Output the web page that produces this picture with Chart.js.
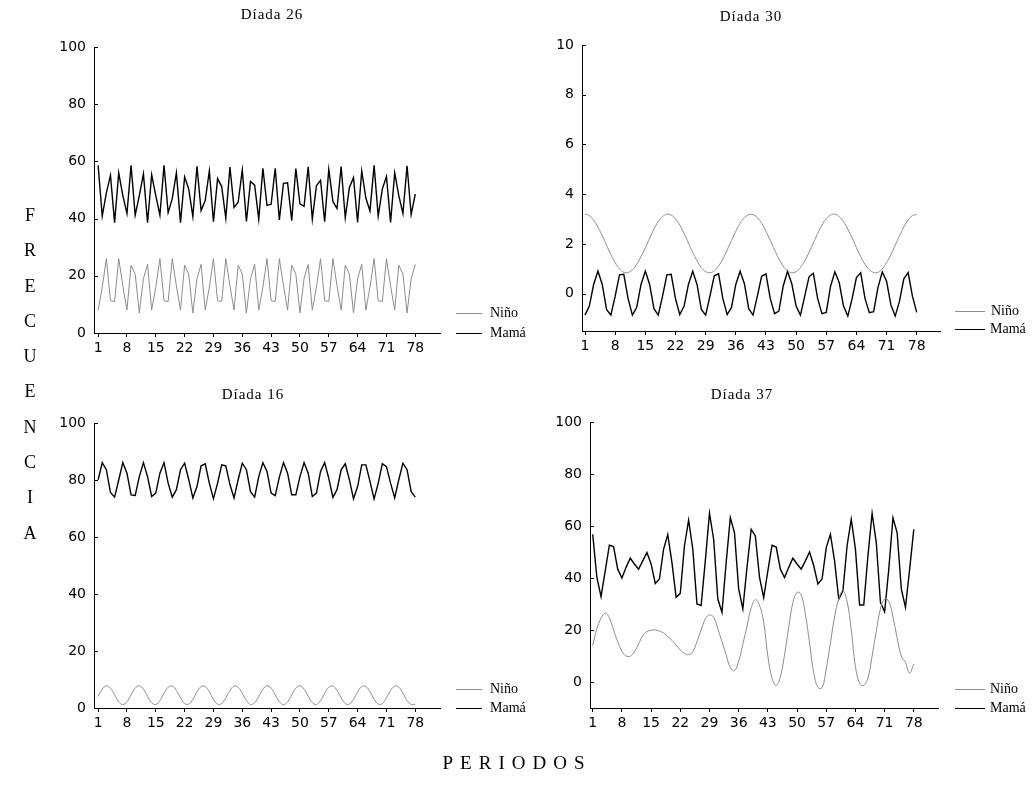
<!DOCTYPE html>
<html><head><meta charset="utf-8">
<script src="https://cdn.jsdelivr.net/npm/chart.js@4.4.0/dist/chart.umd.min.js"></script>
<style>
body{margin:0;background:#fff;width:1035px;height:799px;position:relative;overflow:hidden;}
canvas{position:absolute;}
.title{position:absolute;font-family:"Liberation Serif",serif;font-size:15px;letter-spacing:1px;color:#000;white-space:nowrap;transform:translate(-50%,-50%);}
.lgline{position:absolute;height:0;}
.lgtext{position:absolute;font-family:"Liberation Serif",serif;font-size:14px;color:#000;white-space:nowrap;transform:translateY(-50%);}
#ylab{position:absolute;left:18px;top:198px;width:24px;text-align:center;font-family:"Liberation Serif",serif;font-size:18px;line-height:35.3px;color:#000;}
#xlab{position:absolute;left:517px;top:763px;transform:translate(-50%,-50%);font-family:"Liberation Serif",serif;font-size:19px;letter-spacing:7px;color:#000;white-space:nowrap;}
</style></head><body>
<canvas id="c26" width="420" height="363" style="left:40px;top:0px"></canvas>
<canvas id="c30" width="432" height="361" style="left:528px;top:0px"></canvas>
<canvas id="c16" width="420" height="362" style="left:40px;top:376px"></canvas>
<canvas id="c37" width="422" height="362" style="left:536px;top:376px"></canvas>

<div class="title" style="left:272px;top:14px">Díada 26</div>
<div class="title" style="left:751px;top:16px">Díada 30</div>
<div class="title" style="left:253px;top:394px">Díada 16</div>
<div class="title" style="left:742px;top:394px">Díada 37</div>

<div class="lgline" style="left:456px;top:313px;width:26px;border-top:1px solid #8c8c8c"></div>
<div class="lgtext" style="left:490px;top:313px">Niño</div>
<div class="lgline" style="left:456px;top:333px;width:26px;border-top:1.4px solid #000"></div>
<div class="lgtext" style="left:490px;top:333px">Mamá</div>

<div class="lgline" style="left:955px;top:311px;width:30px;border-top:1px solid #8c8c8c"></div>
<div class="lgtext" style="left:991px;top:311px">Niño</div>
<div class="lgline" style="left:955px;top:329px;width:30px;border-top:1.4px solid #000"></div>
<div class="lgtext" style="left:990px;top:329px">Mamá</div>

<div class="lgline" style="left:456px;top:689px;width:26px;border-top:1px solid #8c8c8c"></div>
<div class="lgtext" style="left:490px;top:689px">Niño</div>
<div class="lgline" style="left:456px;top:708px;width:26px;border-top:1.4px solid #000"></div>
<div class="lgtext" style="left:490px;top:708px">Mamá</div>

<div class="lgline" style="left:955px;top:689px;width:30px;border-top:1px solid #8c8c8c"></div>
<div class="lgtext" style="left:990px;top:689px">Niño</div>
<div class="lgline" style="left:955px;top:708px;width:30px;border-top:1.4px solid #000"></div>
<div class="lgtext" style="left:990px;top:708px">Mamá</div>

<div id="ylab">F<br>R<br>E<br>C<br>U<br>E<br>N<br>C<br>I<br>A</div>
<div id="xlab">PERIODOS</div>

<script>
const periods = [1,2,3,4,5,6,7,8,9,10,11,12,13,14,15,16,17,18,19,20,21,22,23,24,25,26,27,28,29,30,31,32,33,34,35,36,37,38,39,40,41,42,43,44,45,46,47,48,49,50,51,52,53,54,55,56,57,58,59,60,61,62,63,64,65,66,67,68,69,70,71,72,73,74,75,76,77,78];
const xTickLabels = [1,8,15,22,29,36,43,50,57,64,71,78];
const yTicks100 = [0,20,40,60,80,100];
const yTicks10 = [0,2,4,6,8,10];

// Díada 26
const nino26 = [8,16,26,11.3,11,26,16.5,8,23.7,20.6,7,19,24,
  8,16,26,11.3,11,26,16.5,8,23.7,20.6,7,19,24,
  8,16,26,11.3,11,26,16.5,8,23.7,20.6,7,19,24,
  8,16,26,11.3,11,26,16.5,8,23.7,20.6,7,19,24,
  8,16,26,11.3,11,26,16.5,8,23.7,20.6,7,19,24,
  8,16,26,11.3,11,26,16.5,8,23.7,20.6,7,19,24];
const mama26 = [58.6,40.9,49,55.1,38.6,56,48,41.8,58.6,41.2,
  48,55.6,38.6,55.3,48,41.2,58.6,42.1,47,56,
  38.6,54.6,50.3,40.7,58.3,42.8,46.3,56.7,38.9,54,
  51.2,40.1,58,43.9,45.7,57,39,53,51.7,39.8,
  57.6,44.6,45,57.6,39.5,52.3,52.5,39.3,57.5,45.2,
  44.3,58.1,39.8,51.5,53.4,38.9,57.2,46,43.5,58.2,
  40.3,50.9,54.3,38.7,56.6,47.2,42.7,58.6,40.9,50.3,
  54.7,38.7,56,48,41.8,58.5,41.4,48.6];

// Díada 30
const nino30 = [3.20,3.14,2.96,2.68,2.33,1.95,1.57,1.25,1.00,0.86,
  0.85,0.96,1.18,1.49,1.85,2.23,2.60,2.90,3.10,3.20,
  3.16,3.01,2.76,2.42,2.04,1.66,1.32,1.05,0.89,0.84,
  0.92,1.11,1.40,1.76,2.14,2.51,2.83,3.06,3.18,3.18,
  3.06,2.83,2.51,2.14,1.76,1.40,1.11,0.92,0.84,0.89,
  1.05,1.32,1.66,2.04,2.42,2.76,3.01,3.16,3.20,3.10,
  2.90,2.60,2.24,1.85,1.49,1.18,0.96,0.85,0.86,1.00,
  1.25,1.57,1.95,2.33,2.68,2.96,3.14,3.18];
const mama30 = [-0.86,-0.5,0.37,0.91,0.37,-0.63,-0.86,-0.1,0.76,0.78,-0.2,
  -0.86,-0.55,0.37,0.91,0.37,-0.6,-0.86,-0.1,0.76,0.78,-0.2,
  -0.84,-0.5,0.37,0.9,0.37,-0.63,-0.86,-0.1,0.72,0.8,-0.2,
  -0.84,-0.55,0.37,0.9,0.4,-0.6,-0.86,-0.1,0.7,0.8,-0.2,
  -0.8,-0.7,0.3,0.9,0.4,-0.5,-0.86,-0.1,0.68,0.82,-0.2,
  -0.8,-0.75,0.3,0.88,0.45,-0.5,-0.9,-0.2,0.65,0.84,-0.2,
  -0.76,-0.72,0.25,0.87,0.5,-0.45,-0.9,-0.3,0.6,0.85,-0.1,
  -0.75];

// Díada 16
const nino16 = [4.10,6.59,7.79,6.97,4.63,2.22,1.20,2.21,4.63,6.97,
  7.79,6.59,4.10,1.86,1.24,2.62,5.16,7.29,7.70,6.15,
  3.59,1.58,1.37,3.08,5.66,7.53,7.54,5.68,3.09,1.37,
  1.57,3.57,6.14,7.70,7.29,5.17,2.64,1.24,1.85,4.09,
  6.58,7.79,6.98,4.65,2.22,1.20,2.21,4.62,6.96,7.79,
  6.60,4.11,1.87,1.24,2.62,5.15,7.28,7.71,6.16,3.60,
  1.58,1.37,3.07,5.66,7.53,7.54,5.68,3.10,1.37,1.57,
  3.57,6.14,7.70,7.30,5.17,2.64,1.25,1.30];
const mama16 = [80.1,86.1,83.6,75.6,74,80,86.1,82.4,74.8,74.6,
  81.2,86.1,81.2,74.2,75.4,82.4,86.1,78.9,74,76.6,
  83.6,85.9,80.1,73.7,77.7,85,85.7,78.9,73.4,78.9,
  85.3,85,78.4,73.7,80.1,85.9,83.6,75.9,74,81.2,
  86.1,83,75.4,74.5,81,86.1,82.4,74.8,74.8,81.2,
  86.1,82.4,74.2,75.4,83,86.1,80.6,73.9,76.6,83.6,
  85.7,80.1,73.4,77.7,85.3,85.3,79.5,73.4,78.9,85.7,
  84.7,78.9,73.7,80.1,85.9,83.6,75.9,74];

// Díada 37
const nino37 = [14,20.5,24.5,26.5,24.7,20,15.5,11.8,10,9.9,
  11.6,14.6,17.8,19.4,19.9,20,19.6,18.8,17.5,16,
  14.2,12.3,11,10.5,11.7,15.5,20,24.3,25.8,24.9,
  20.5,15.5,10.5,5.5,4.3,8,14.5,21.5,28.5,31.7,
  29.5,23,10,1.5,-1.3,2,10.5,21,30.5,34.5,
  33.5,26,15,3.5,-2,-2.2,5,15,25,32,
  35.1,31,20,6,-0.5,-1.3,1.5,10,19.5,28.1,
  32,31,25,17,10,7.5,3.4,6.9];
const mama37 = [56.8,40.2,32.8,42.7,52.6,52.1,43.4,40,44.1,47.6,
  45.4,43.4,46.6,49.8,45.4,37.9,39.6,51.1,56.7,45.9,
  32.6,34.1,52.4,62.3,51.1,30,29.4,46.6,64.9,54.9,
  31.9,26.8,45.9,63.2,57.4,35.8,28.1,44.1,58.7,56.2,
  40.2,32.5,42.7,52.6,51.9,43.4,40.2,44.1,47.6,45.4,
  43.4,46.6,50,44.7,37.7,39.6,51.7,56.8,46.6,31.9,
  35.1,52.4,62.6,51.1,29.6,29.6,48.5,64.9,53.6,30.6,
  27,43.4,63.2,57.4,35.8,28.7,43.4,58.7];

const NINO_COLOR = '#8c8c8c';
const MAMA_COLOR = '#000000';

const innerTicks = {
  id:'innerTicks',
  afterDraw(chart){
    const ctx = chart.ctx, y = chart.scales.y, a = chart.chartArea;
    ctx.save(); ctx.strokeStyle = '#000'; ctx.lineWidth = 1;
    y.ticks.forEach(t => {
      const py = Math.round(y.getPixelForValue(t.value)) + 0.5;
      ctx.beginPath(); ctx.moveTo(a.left, py); ctx.lineTo(a.left + 4, py); ctx.stroke();
    });
    ctx.restore();
  }
};

function makeChart(id, nino, mama, cfg){
  const toPts = arr => periods.map((p, i) => ({x: p, y: arr[i]}));
  new Chart(document.getElementById(id), {
    type: 'line',
    data: { datasets: [
      { label: 'Niño', data: toPts(nino), borderColor: NINO_COLOR, borderWidth: 1, pointRadius: 0, tension: cfg.tension, fill: false },
      { label: 'Mamá', data: toPts(mama), borderColor: MAMA_COLOR, borderWidth: 1.4, pointRadius: 0, tension: 0, fill: false }
    ]},
    options: {
      responsive: false, animation: false,
      layout: { padding: { top: cfg.padTop, right: 20, left: 0, bottom: 0 } },
      plugins: { legend: { display: false }, tooltip: { enabled: false } },
      scales: {
        x: {
          type: 'linear', min: cfg.xMin, max: cfg.xMax,
          afterBuildTicks: s => { s.ticks = xTickLabels.map(v => ({ value: v })); },
          afterFit: s => { s.height = 30; },
          grid: { drawOnChartArea: false, drawTicks: true, tickLength: 4, color: '#000' },
          border: { display: true, color: '#000', width: 1 },
          ticks: { font: { family: 'DejaVu Sans', size: 14 }, color: '#000', padding: 3, maxRotation: 0, autoSkip: false }
        },
        y: {
          min: cfg.yMin, max: cfg.yMax,
          afterBuildTicks: s => { s.ticks = cfg.yTicks.map(v => ({ value: v })); },
          afterFit: s => { s.width = 54; },
          grid: { drawOnChartArea: false, drawTicks: false },
          border: { display: true, color: '#000', width: 1 },
          ticks: { font: { family: 'DejaVu Sans', size: 14 }, color: '#000', padding: 8 }
        }
      }
    },
    plugins: [innerTicks]
  });
}

makeChart('c26', nino26, mama26, { padTop: 47, xMin: 0, xMax: 84, yMin: 0, yMax: 100, yTicks: yTicks100, tension: 0 });
makeChart('c30', nino30, mama30, { padTop: 45, xMin: 0.3, xMax: 83.4, yMin: -1.5, yMax: 10, yTicks: yTicks10, tension: 0.4 });
makeChart('c16', nino16, mama16, { padTop: 47, xMin: 0, xMax: 84, yMin: 0, yMax: 100, yTicks: yTicks100, tension: 0.4 });
makeChart('c37', nino37, mama37, { padTop: 46, xMin: 0.35, xMax: 83.8, yMin: -10, yMax: 100, yTicks: yTicks100, tension: 0.4 });
</script>
</body></html>
